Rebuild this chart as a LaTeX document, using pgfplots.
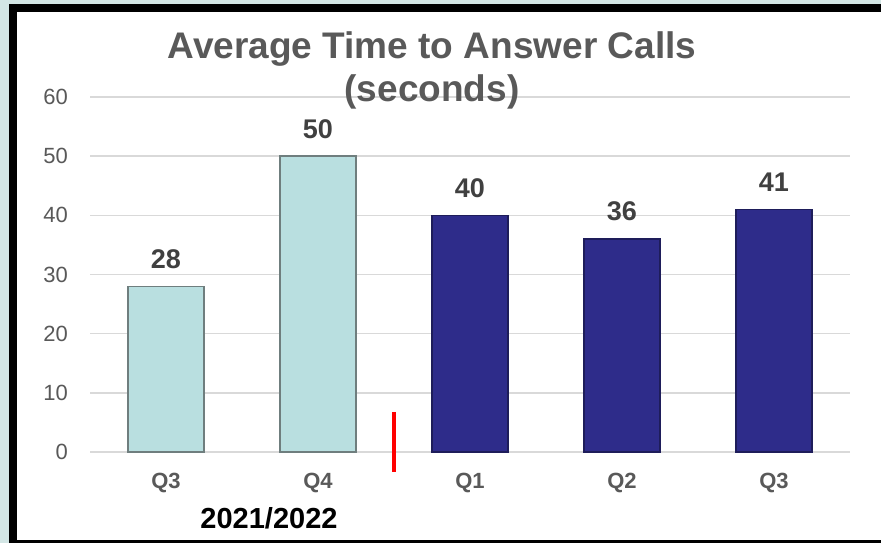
\documentclass[border=0pt]{standalone}
\usepackage{pgfplots}
\pgfplotsset{compat=1.18}
\usepackage{fontspec}
\setmainfont{Liberation Sans}
\definecolor{bgteal}{HTML}{D3E6E5}
\definecolor{lightbar}{HTML}{B9DFE0}
\definecolor{lightedge}{HTML}{6F7E7E}
\definecolor{darkbar}{HTML}{2E2C8A}
\definecolor{darkedge}{HTML}{1E1D5A}
\definecolor{txtgray}{HTML}{595959}
\definecolor{lblgray}{HTML}{404040}
\definecolor{gridgray}{HTML}{D9D9D9}
\begin{document}
\begin{tikzpicture}[x=1pt,y=1pt]
\useasboundingbox (0,0) rectangle (881,543);
\fill[bgteal] (0,0) rectangle (881,543);
\fill[black] (9,0) rectangle (881,539);
\fill[white] (17,3) rectangle (881,531);
\begin{axis}[
  at={(90pt,91pt)}, anchor=south west,
  scale only axis, width=760pt, height=355pt,
  xmin=-0.5, xmax=4.5, ymin=0, ymax=60,
  ytick={0,10,20,30,40,50,60},
  xtick={0,1,2,3,4},
  xticklabels={Q3,Q4,Q1,Q2,Q3},
  axis line style={draw=none},
  major tick length=0pt,
  ymajorgrids, grid style={gridgray, line width=1.5pt},
  xticklabel style={anchor=north, inner sep=0pt, yshift=-21pt, font=\fontsize{22}{24}\selectfont\bfseries, text=txtgray},
  yticklabel style={anchor=east, inner sep=0pt, xshift=-22pt, font=\fontsize{22}{24}\selectfont, text=txtgray},
  /pgf/number format/assume math mode=true,
  clip=false,
  mybar/.style={ybar, bar width=76pt, bar shift=0pt, line width=1.5pt,
    nodes near coords,
    every node near coord/.append style={anchor=south, inner sep=0pt, yshift=17pt, font=\fontsize{27}{29}\selectfont\bfseries, text=lblgray}},
]
\addplot[mybar, fill=lightbar, draw=lightedge] coordinates {(0,28) (1,50)};
\addplot[mybar, fill=darkbar, draw=darkedge] coordinates {(2,40) (3,36) (4,41)};
\addplot[red, line width=4pt, mark=none, sharp plot] coordinates {(1.5,6.8) (1.5,-3.4)};
\end{axis}
\node[anchor=base, inner sep=0pt, text=txtgray, font=\fontsize{37}{40}\selectfont\bfseries] at (432,484) {Average Time to Answer Calls};
\node[anchor=base, inner sep=0pt, text=txtgray, font=\fontsize{37}{40}\selectfont\bfseries] at (432,441) {(seconds)};
\node[anchor=base, inner sep=0pt, text=black, font=\fontsize{29}{31}\selectfont\bfseries] at (269,14) {2021/2022};
\end{tikzpicture}
\end{document}
